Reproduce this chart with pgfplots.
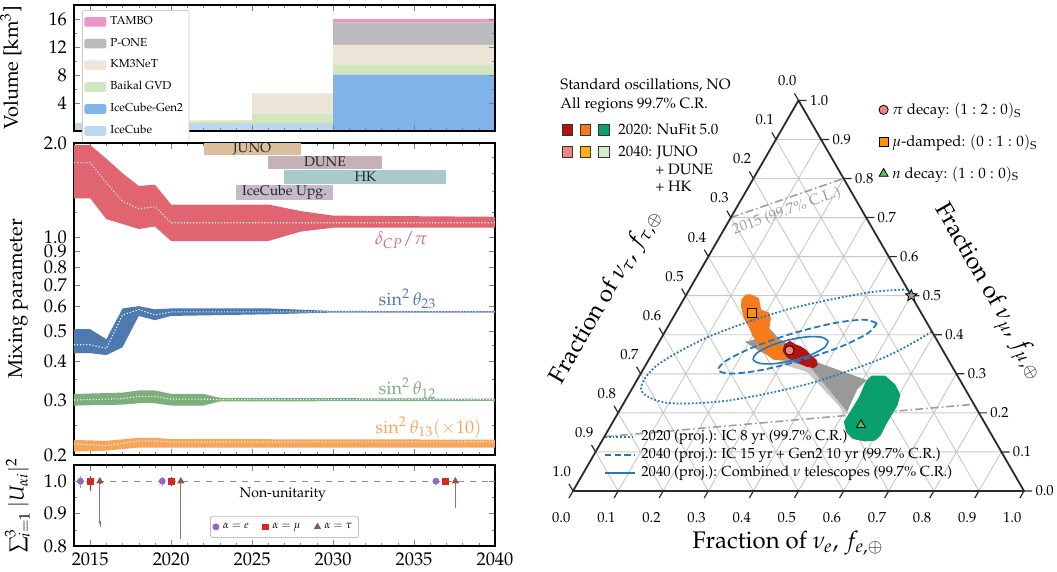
\documentclass[border=0pt]{standalone}
\usepackage[T1]{fontenc}
\usepackage{mathpazo}
\usepackage{xcolor}
\usepackage{pgfplots}
\pgfplotsset{compat=1.18}
\usepackage{pgfplotstable}

\definecolor{cTambo}{HTML}{EA97C6}
\definecolor{cPone}{HTML}{BABABF}
\definecolor{cKm3}{HTML}{EEE5D8}
\definecolor{cBaikal}{HTML}{D2E6BF}
\definecolor{cGen2}{HTML}{80B4E8}
\definecolor{cIC}{HTML}{BBD8F2}
\definecolor{cDcp}{HTML}{E06570}
\definecolor{cT23}{HTML}{4E7BAF}
\definecolor{cT12}{HTML}{7DAF7C}
\definecolor{cT13}{HTML}{F6A55B}
\definecolor{cJuno}{HTML}{D9BF9C}
\definecolor{cDune}{HTML}{C5B1B8}
\definecolor{cHK}{HTML}{A9CACC}
\definecolor{cUpg}{HTML}{C4BACC}
\definecolor{cE}{HTML}{9467BD}
\definecolor{cMu}{HTML}{D62728}
\definecolor{cTau}{HTML}{8C564B}
\definecolor{nfRed}{HTML}{B5120F}
\definecolor{nfOrange}{HTML}{F77B1D}
\definecolor{nfGreen}{HTML}{0C9F6E}
\definecolor{fuRed}{HTML}{F4857E}
\definecolor{fuOrange}{HTML}{FFB20F}
\definecolor{fuGreen}{HTML}{D3EFCB}
\definecolor{cEll}{HTML}{2678B8}
\definecolor{cGridT}{HTML}{C8C8C8}
\definecolor{cEdge}{HTML}{2B2B2B}

\pgfdeclareplotmark{fivestar}{%
  \pgfpathmoveto{\pgfpointpolar{90}{\pgfplotmarksize}}%
  \pgfpathlineto{\pgfpointpolar{126}{0.45\pgfplotmarksize}}%
  \pgfpathlineto{\pgfpointpolar{162}{\pgfplotmarksize}}%
  \pgfpathlineto{\pgfpointpolar{198}{0.45\pgfplotmarksize}}%
  \pgfpathlineto{\pgfpointpolar{234}{\pgfplotmarksize}}%
  \pgfpathlineto{\pgfpointpolar{270}{0.45\pgfplotmarksize}}%
  \pgfpathlineto{\pgfpointpolar{306}{\pgfplotmarksize}}%
  \pgfpathlineto{\pgfpointpolar{342}{0.45\pgfplotmarksize}}%
  \pgfpathlineto{\pgfpointpolar{18}{\pgfplotmarksize}}%
  \pgfpathlineto{\pgfpointpolar{54}{0.45\pgfplotmarksize}}%
  \pgfpathclose
  \pgfusepathqfillstroke
}

% detector volumes (stacked), km^3
\pgfplotstableread{
yr   ic gen baik km   pone tam
2014 1  0   0.10 0.00 0    0
2016 1  0   0.20 0.05 0    0
2020 1  0   0.35 0.10 0    0
2025 1  0   0.45 0.10 0    0
2025 1  0   1.50 2.80 0    0
2030 1  0   1.50 2.80 0    0
2030 0  8   1.50 2.80 3.2  0.5
2040 0  8   1.50 2.80 3.2  0.5
}\voltab

% bands: upper edge forward, lower edge back
\pgfplotstableread{
yr   v
2014 1.97
2015 1.97
2016 1.78
2017 1.60
2018 1.456
2019 1.47
2020 1.27
2026 1.27
2028 1.21
2030 1.17
2040 1.16
2040 1.07
2030 1.07
2028 1.04
2026 0.97
2020 0.97
2019 1.08
2018 1.06
2017 1.10
2016 1.14
2015 1.33
2014 1.33
}\dcpband
\pgfplotstableread{
yr   v
2014 1.73
2015 1.73
2016 1.49
2017 1.30
2018 1.23
2019 1.25
2020 1.11
2040 1.11
}\dcpmid

\pgfplotstableread{
yr   v
2014 0.506
2015 0.506
2016 0.470
2017 0.590
2018 0.600
2019 0.586
2020 0.590
2026 0.590
2030 0.579
2040 0.578
2040 0.572
2030 0.572
2026 0.565
2020 0.558
2019 0.541
2018 0.558
2017 0.443
2016 0.418
2015 0.424
2014 0.424
}\ttwothreeband
\pgfplotstableread{
yr   v
2014 0.451
2015 0.451
2016 0.439
2017 0.562
2018 0.585
2019 0.562
2020 0.575
2040 0.575
}\ttwothreemid

\pgfplotstableread{
yr   v
2014 0.3136
2017 0.317
2018 0.322
2019 0.322
2020 0.314
2022 0.314
2023 0.305
2040 0.303
2040 0.298
2023 0.297
2022 0.288
2020 0.288
2019 0.293
2018 0.293
2017 0.290
2014 0.288
}\tonetwoband
\pgfplotstableread{
yr   v
2014 0.300
2017 0.303
2018 0.308
2019 0.308
2020 0.302
2022 0.302
2023 0.301
2040 0.301
}\tonetwomid

\pgfplotstableread{
yr   v
2014 0.2234
2016 0.222
2018 0.227
2019 0.227
2020 0.2249
2040 0.224
2040 0.211
2020 0.211
2019 0.2113
2018 0.2113
2016 0.2065
2014 0.205
}\tonethreeband
\pgfplotstableread{
yr   v
2014 0.2169
2016 0.2143
2018 0.2218
2019 0.2218
2020 0.220
2040 0.2205
}\tonethreemid

\pgfplotsset{
  table/tern/.style={row sep=\\,
    x expr={\thisrow{fe}+0.5*\thisrow{fmu}},
    y expr={0.866025*\thisrow{fmu}}},
  leftpanel/.style={anchor=south west, scale only axis, width=210.5pt,
    xmin=2014, xmax=2040, xtick={2015,2020,...,2040}, minor x tick num=4,
    major tick length=3pt, minor tick length=1.7pt,
    axis line style={line width=0.6pt},
    tick label style={font=\fontsize{9.2}{10}\selectfont},
    label style={font=\fontsize{10}{12}\selectfont}},
  ticklab/.style={forget plot, only marks, mark size=0pt, mark options={draw=none,fill=none},
    point meta=explicit,
    nodes near coords={\pgfmathprintnumber[fixed,fixed zerofill,precision=1]{\pgfplotspointmeta}},
    every node near coord/.append style={font=\fontsize{7.3}{8}\selectfont, inner sep=0.6pt, text=black}},
  midline/.style={white, densely dotted, line width=0.55pt},
}

\begin{document}
\begin{tikzpicture}
\path[use as bounding box] (0,0) rectangle (528.5pt,286pt);

% ---------- volume ----------
\begin{axis}[leftpanel, at={(37pt,220.5pt)}, height=63pt,
  ymin=0, ymax=18, ytick={4,8,12,16}, minor y tick num=1, xticklabels={},
  stack plots=y, area style,
  ylabel={Volume [km$^3$]},
  ylabel style={at={(axis description cs:-0.108,0.5)}, anchor=south},
  legend style={at={(0.019,0.96)}, anchor=north west, font=\fontsize{5.8}{6.5}\selectfont,
    draw=black!20, rounded corners=1pt, inner sep=1pt, row sep=1.3pt},
  legend cell align=left, reverse legend,
  legend image code/.code={\fill[#1] (0pt,-2.4pt) rectangle (11pt,2.4pt);}]
\addplot[fill=cIC, draw=none] table[x=yr,y=ic]{\voltab} \closedcycle;
\addlegendentry{IceCube}
\addplot[fill=cGen2, draw=none] table[x=yr,y=gen]{\voltab} \closedcycle;
\addlegendentry{IceCube-Gen2}
\addplot[fill=cBaikal, draw=none] table[x=yr,y=baik]{\voltab} \closedcycle;
\addlegendentry{Baikal GVD}
\addplot[fill=cKm3, draw=none] table[x=yr,y=km]{\voltab} \closedcycle;
\addlegendentry{KM3NeT}
\addplot[fill=cPone, draw=none] table[x=yr,y=pone]{\voltab} \closedcycle;
\addlegendentry{P-ONE}
\addplot[fill=cTambo, draw=none] table[x=yr,y=tam]{\voltab} \closedcycle;
\addlegendentry{TAMBO}
\end{axis}

% ---------- mixing parameters ----------
\begin{axis}[leftpanel, at={(37pt,58.5pt)}, height=156pt,
  ymode=log, ymin=0.2, ymax=2.0, xticklabels={},
  ytick={0.2,0.3,0.4,0.5,0.6,0.7,0.8,0.9,1.0,2.0},
  yticklabels={0.2,0.3,0.4,0.5,0.6,0.7,0.8,0.9,1.0,2.0},
  minor ytick={0.25,0.35,0.45,1.2,1.4,1.6,1.8},
  ylabel={Mixing parameter},
  ylabel style={at={(axis description cs:-0.093,0.5)}, anchor=south}]
% experiments
\addplot[fill=cJuno, draw=none] coordinates {(2022,1.83) (2028,1.83) (2028,2.0) (2022,2.0)};
\addplot[fill=cDune, draw=none] coordinates {(2026,1.65) (2033,1.65) (2033,1.82) (2026,1.82)};
\addplot[fill=cHK, draw=none] coordinates {(2027,1.48) (2037,1.48) (2037,1.64) (2027,1.64)};
\addplot[fill=cUpg, draw=none] coordinates {(2024,1.31) (2030,1.31) (2030,1.47) (2024,1.47)};
\node[font=\fontsize{7}{8}\selectfont, text=black!85] at (axis cs:2025,1.91) {JUNO};
\node[font=\fontsize{7}{8}\selectfont, text=black!85] at (axis cs:2029.5,1.735) {DUNE};
\node[font=\fontsize{7}{8}\selectfont, text=black!85] at (axis cs:2032,1.555) {HK};
\node[font=\fontsize{7}{8}\selectfont, text=black!85] at (axis cs:2027,1.385) {IceCube Upg.};
% bands with central values
\addplot[fill=cDcp, draw=none] table[x=yr,y=v]{\dcpband};
\addplot[midline] table[x=yr,y=v]{\dcpmid};
\addplot[fill=cT23, draw=none] table[x=yr,y=v]{\ttwothreeband};
\addplot[midline] table[x=yr,y=v]{\ttwothreemid};
\addplot[fill=cT12, draw=none] table[x=yr,y=v]{\tonetwoband};
\addplot[midline] table[x=yr,y=v]{\tonetwomid};
\addplot[fill=cT13, draw=none] table[x=yr,y=v]{\tonethreeband};
\addplot[midline] table[x=yr,y=v]{\tonethreemid};
\node[text=cDcp, font=\fontsize{9}{10}\selectfont] at (axis cs:2034.2,0.977) {$\delta_{CP}/\pi$};
\node[text=cT23, font=\fontsize{9}{10}\selectfont] at (axis cs:2034.6,0.632) {$\sin^2\theta_{23}$};
\node[text=cT12, font=\fontsize{9}{10}\selectfont] at (axis cs:2034.6,0.327) {$\sin^2\theta_{12}$};
\node[text=cT13, font=\fontsize{9}{10}\selectfont] at (axis cs:2035.9,0.2456) {$\sin^2\theta_{13}(\times 10)$};
\end{axis}

% ---------- unitarity ----------
\begin{axis}[leftpanel, at={(37pt,13pt)}, height=40.5pt,
  ymin=0.8, ymax=1.05, ytick={0.8,0.9,1.0}, yticklabels={0.8,0.9,1.0},
  minor y tick num=1,
  xticklabel style={/pgf/number format/1000 sep={}},
  ylabel={$\textstyle\sum_{i=1}^{3}|U_{\alpha i}|^2$},
  ylabel style={at={(axis description cs:-0.088,0.5)}, anchor=south},
  legend style={at={(0.5,0.1)}, anchor=south, legend columns=3,
    font=\fontsize{5.5}{6}\selectfont, draw=black!25, rounded corners=1pt,
    inner sep=1.2pt, /tikz/every even column/.append style={column sep=5pt}},
  legend cell align=left]
\addplot[forget plot, black!45, dashed, line width=0.4pt] coordinates {(2014,1.0) (2040,1.0)};
\addplot[cE, only marks, mark=*, mark size=1.5pt,
  error bars/.cd, y dir=both, y explicit,
  error bar style={cE!70, line width=0.5pt}, error mark options={cE!70, mark size=1.5pt}]
  coordinates {(2014.4,1.0) += (0,0.006) -= (0,0.013)
               (2019.45,1.0) += (0,0.004) -= (0,0.006)
               (2036.35,1.0) += (0,0.002) -= (0,0.003)};
\addlegendentry{$\alpha=e$}
\addplot[cMu, only marks, mark=square*, mark size=1.4pt,
  error bars/.cd, y dir=both, y explicit,
  error bar style={cMu, line width=0.5pt}, error mark options={cMu, mark size=1.5pt}]
  coordinates {(2015.0,1.0) += (0,0.006) -= (0,0.022)
               (2020.0,1.0) += (0,0.003) -= (0,0.006)
               (2036.95,1.0) += (0,0.002) -= (0,0.004)};
\addlegendentry{$\alpha=\mu$}
\addplot[cTau, only marks, mark=triangle*, mark size=1.7pt,
  error bars/.cd, y dir=both, y explicit,
  error bar style={cTau!85, line width=0.5pt}, error mark options={cTau!85, mark size=1.5pt}]
  coordinates {(2015.6,1.0) += (0,0) -= (0,0.132)
               (2020.6,1.0) += (0,0) -= (0,0.170)
               (2037.55,1.0) += (0,0) -= (0,0.073)};
\addlegendentry{$\alpha=\tau$}
\node[font=\fontsize{7}{8}\selectfont] at (axis cs:2026.9,0.958) {Non-unitarity};
\end{axis}

% ---------- flavour triangle ----------
\begin{axis}[at={(286.5pt,40.5pt)}, anchor=south west, scale only axis,
  width=225.5pt, height=195.3pt, xmin=0, xmax=1, ymin=0, ymax=0.866025,
  hide axis, clip=false, unbounded coords=jump,
  legend style={at={(0.6776,1.006)}, anchor=north west, draw=none, fill=none,
    font=\fontsize{7.5}{9}\selectfont, row sep=4.6pt, inner sep=0pt},
  legend cell align=left,
  legend image code/.code={\draw[#1] plot coordinates {(0.1cm,0cm)};}]
% grid
\addplot[forget plot, cGridT, line width=0.45pt] table[tern] {
fe fmu\\
0 0.1\\ 0.9 0.1\\ nan nan\\ 0 0.2\\ 0.8 0.2\\ nan nan\\ 0 0.3\\ 0.7 0.3\\ nan nan\\
0 0.4\\ 0.6 0.4\\ nan nan\\ 0 0.5\\ 0.5 0.5\\ nan nan\\ 0 0.6\\ 0.4 0.6\\ nan nan\\
0 0.7\\ 0.3 0.7\\ nan nan\\ 0 0.8\\ 0.2 0.8\\ nan nan\\ 0 0.9\\ 0.1 0.9\\ nan nan\\
0.1 0\\ 0.1 0.9\\ nan nan\\ 0.2 0\\ 0.2 0.8\\ nan nan\\ 0.3 0\\ 0.3 0.7\\ nan nan\\
0.4 0\\ 0.4 0.6\\ nan nan\\ 0.5 0\\ 0.5 0.5\\ nan nan\\ 0.6 0\\ 0.6 0.4\\ nan nan\\
0.7 0\\ 0.7 0.3\\ nan nan\\ 0.8 0\\ 0.8 0.2\\ nan nan\\ 0.9 0\\ 0.9 0.1\\ nan nan\\
0.9 0\\ 0 0.9\\ nan nan\\ 0.8 0\\ 0 0.8\\ nan nan\\ 0.7 0\\ 0 0.7\\ nan nan\\
0.6 0\\ 0 0.6\\ nan nan\\ 0.5 0\\ 0 0.5\\ nan nan\\ 0.4 0\\ 0 0.4\\ nan nan\\
0.3 0\\ 0 0.3\\ nan nan\\ 0.2 0\\ 0 0.2\\ nan nan\\ 0.1 0\\ 0 0.1\\
};
% 2015 region boundaries
\addplot[forget plot, black!38, dash pattern=on 4pt off 1.5pt on 0.8pt off 1.5pt, line width=0.8pt] table[tern] {
fe fmu\\ 0 0.70\\ 0.20 0.80\\ nan nan\\ 0 0.139\\ 0.778 0.222\\
};
\node[rotate=20, text=black!38, font=\fontsize{7.5}{8}\selectfont] at (axis cs:0.474,0.620) {2015 (99.7\% C.L.)};
% grey source band
\addplot[forget plot, fill=black!40, draw=none] table[tern] {
fe fmu\\
0.190 0.382\\ 0.210 0.388\\ 0.211 0.429\\ 0.260 0.391\\ 0.325 0.357\\ 0.384 0.327\\
0.509 0.284\\ 0.500 0.259\\ 0.507 0.199\\ 0.456 0.241\\ 0.373 0.305\\ 0.310 0.327\\
0.236 0.357\\
};
\addplot[forget plot, fill=black!22, draw=none] table[tern] {
fe fmu\\
0.290 0.337\\ 0.367 0.317\\ 0.510 0.200\\ 0.497 0.206\\ 0.366 0.305\\ 0.300 0.325\\
};
% NuFit 5.0 regions
\addplot[forget plot, fill=nfOrange, draw=nfOrange, line width=0.8pt, line join=round] table[tern] {
fe fmu\\
0.141 0.502\\ 0.164 0.493\\ 0.184 0.463\\ 0.206 0.455\\ 0.216 0.442\\ 0.227 0.412\\
0.255 0.387\\ 0.284 0.365\\ 0.301 0.348\\ 0.298 0.337\\ 0.279 0.337\\ 0.254 0.351\\
0.226 0.374\\ 0.200 0.399\\ 0.181 0.421\\ 0.160 0.442\\ 0.138 0.472\\ 0.130 0.491\\
0.134 0.500\\ 0.141 0.502\\
};
\addplot[forget plot, fill=nfRed, draw=nfRed, line width=0.8pt, line join=round] table[tern] {
fe fmu\\
0.283 0.374\\ 0.290 0.382\\ 0.305 0.374\\ 0.319 0.369\\ 0.334 0.361\\ 0.351 0.348\\
0.371 0.335\\ 0.379 0.323\\ 0.375 0.317\\ 0.358 0.320\\ 0.339 0.328\\ 0.321 0.335\\
0.303 0.344\\ 0.287 0.359\\ 0.283 0.374\\
};
\addplot[forget plot, fill=nfGreen, draw=nfGreen, line width=0.8pt, line join=round] table[tern] {
fe fmu\\
0.516 0.293\\ 0.545 0.293\\ 0.578 0.271\\ 0.601 0.246\\ 0.608 0.220\\ 0.607 0.177\\
0.609 0.143\\ 0.604 0.131\\ 0.583 0.129\\ 0.554 0.135\\ 0.531 0.152\\ 0.514 0.177\\
0.515 0.199\\ 0.516 0.241\\ 0.511 0.280\\ 0.516 0.293\\
};
% projected IceCube contours
\addplot[forget plot, cEll, densely dotted, line width=0.9pt, smooth] table[tern] {
fe fmu\\
0.484 0.516\\ 0.398 0.5075\\ 0.243 0.4648\\ 0.106 0.3964\\ 0.025 0.3210\\ 0.022 0.2584\\
0.096 0.2256\\ 0.228 0.2315\\ 0.384 0.2742\\ 0.520 0.3426\\ 0.592 0.408\\
};
\addplot[forget plot, cEll, dash pattern=on 3.2pt off 1.6pt, line width=0.9pt, smooth] table[tern] {
fe fmu\\
0.459 0.4292\\ 0.426 0.4386\\ 0.363 0.4295\\ 0.287 0.4042\\ 0.218 0.3696\\ 0.174 0.3351\\
0.167 0.3098\\ 0.200 0.3005\\ 0.263 0.3096\\ 0.339 0.3349\\ 0.409 0.3694\\ 0.452 0.4039\\
0.459 0.4292\\
};
\addplot[forget plot, cEll, line width=0.8pt, smooth] table[tern] {
fe fmu\\
0.374 0.3837\\ 0.355 0.3936\\ 0.322 0.3947\\ 0.284 0.3864\\ 0.251 0.3711\\ 0.231 0.3530\\
0.231 0.3368\\ 0.250 0.3269\\ 0.283 0.3259\\ 0.321 0.3342\\ 0.354 0.3494\\ 0.374 0.3675\\
0.374 0.3837\\
};
% source benchmarks
\addplot[only marks, mark=*, mark size=2.3pt, mark options={fill=fuRed, draw=black, line width=0.4pt}] table[tern] {
fe fmu\\ 0.30 0.36\\
};
\addlegendentry{$\pi$ decay: $(1:2:0)_{\mathrm{S}}$}
\addplot[only marks, mark=square*, mark size=2.2pt, mark options={fill=orange!85!yellow, draw=black, line width=0.4pt}] table[tern] {
fe fmu\\ 0.17 0.455\\
};
\addlegendentry{$\mu$-damped: $(0:1:0)_{\mathrm{S}}$}
\addplot[only marks, mark=triangle*, mark size=2.6pt, mark options={fill=green!70!black!70!white, draw=black, line width=0.4pt}] table[tern] {
fe fmu\\ 0.554 0.169\\
};
\addlegendentry{$n$ decay: $(1:0:0)_{\mathrm{S}}$}
\addplot[forget plot, only marks, mark=fivestar, mark size=3pt, mark options={fill=black!40, draw=black, line width=0.4pt}] table[tern] {
fe fmu\\ 0.5 0.5\\
};
% frame and ticks
\addplot[forget plot, cEdge, line width=0.9pt, line join=round] table[tern] {
fe fmu\\ 0 0\\ 1 0\\ 0 1\\ 0 0\\
};
\addplot[forget plot, cEdge, line width=0.6pt] table[tern] {
fe fmu\\
0 1\\ -0.018 1.018\\ nan nan\\ 0 0.9\\ -0.018 0.918\\ nan nan\\ 0 0.8\\ -0.018 0.818\\ nan nan\\
0 0.7\\ -0.018 0.718\\ nan nan\\ 0 0.6\\ -0.018 0.618\\ nan nan\\ 0 0.5\\ -0.018 0.518\\ nan nan\\
0 0.4\\ -0.018 0.418\\ nan nan\\ 0 0.3\\ -0.018 0.318\\ nan nan\\ 0 0.2\\ -0.018 0.218\\ nan nan\\
0 0.1\\ -0.018 0.118\\ nan nan\\ 0 0\\ -0.018 0.018\\ nan nan\\
1 0\\ 1.018 0\\ nan nan\\ 0.9 0.1\\ 0.918 0.1\\ nan nan\\ 0.8 0.2\\ 0.818 0.2\\ nan nan\\
0.7 0.3\\ 0.718 0.3\\ nan nan\\ 0.6 0.4\\ 0.618 0.4\\ nan nan\\ 0.5 0.5\\ 0.518 0.5\\ nan nan\\
0.4 0.6\\ 0.418 0.6\\ nan nan\\ 0.3 0.7\\ 0.318 0.7\\ nan nan\\ 0.2 0.8\\ 0.218 0.8\\ nan nan\\
0.1 0.9\\ 0.118 0.9\\ nan nan\\ 0 1\\ 0.018 1\\ nan nan\\
0 0\\ 0 -0.018\\ nan nan\\ 0.1 0\\ 0.1 -0.018\\ nan nan\\ 0.2 0\\ 0.2 -0.018\\ nan nan\\
0.3 0\\ 0.3 -0.018\\ nan nan\\ 0.4 0\\ 0.4 -0.018\\ nan nan\\ 0.5 0\\ 0.5 -0.018\\ nan nan\\
0.6 0\\ 0.6 -0.018\\ nan nan\\ 0.7 0\\ 0.7 -0.018\\ nan nan\\ 0.8 0\\ 0.8 -0.018\\ nan nan\\
0.9 0\\ 0.9 -0.018\\ nan nan\\ 1 0\\ 1 -0.018\\
};
% tick labels: f_tau (left), f_mu (right), f_e (bottom)
\addplot[ticklab, every node near coord/.append style={anchor=center}] table[tern, meta=lab] {
fe fmu lab\\
-0.05 1.05 0.0\\ -0.05 0.95 0.1\\ -0.05 0.85 0.2\\ -0.05 0.75 0.3\\ -0.05 0.65 0.4\\
-0.05 0.55 0.5\\ -0.05 0.45 0.6\\ -0.05 0.35 0.7\\ -0.05 0.25 0.8\\ -0.05 0.15 0.9\\
-0.05 0.05 1.0\\
};
\addplot[ticklab, every node near coord/.append style={anchor=west}] table[tern, meta=lab] {
fe fmu lab\\
1.022 0 0.0\\ 0.922 0.1 0.1\\ 0.822 0.2 0.2\\ 0.722 0.3 0.3\\ 0.622 0.4 0.4\\
0.522 0.5 0.5\\ 0.422 0.6 0.6\\ 0.322 0.7 0.7\\ 0.222 0.8 0.8\\ 0.122 0.9 0.9\\
0.022 1.0 1.0\\
};
\addplot[ticklab, every node near coord/.append style={anchor=center}] table[tern, meta=lab] {
fe fmu lab\\
0.008 -0.068 0.0\\ 0.108 -0.068 0.1\\ 0.208 -0.068 0.2\\ 0.308 -0.068 0.3\\
0.408 -0.068 0.4\\ 0.508 -0.068 0.5\\ 0.608 -0.068 0.6\\ 0.708 -0.068 0.7\\
0.808 -0.068 0.8\\ 0.908 -0.068 0.9\\ 1.008 -0.068 1.0\\
};
\end{axis}

% triangle axis titles
\node[font=\fontsize{12}{14}\selectfont] at (394pt,14.5pt) {Fraction of $\nu_e$, $f_{e,\oplus}$};
\node[font=\fontsize{12}{14}\selectfont, rotate=-60] at (494pt,140pt) {Fraction of $\nu_\mu$, $f_{\mu,\oplus}$};
\node[font=\fontsize{12}{14}\selectfont, rotate=60] at (302.9pt,137.5pt) {Fraction of $\nu_\tau$, $f_{\tau,\oplus}$};

% region key
\begin{scope}[font=\fontsize{7.5}{9}\selectfont]
\node[anchor=base west, inner sep=0pt] at (280pt,241.3pt) {Standard oscillations, NO};
\node[anchor=base west, inner sep=0pt] at (280pt,231.8pt) {All regions 99.7\% C.R.};
\foreach \c/\x in {nfRed/283.5, nfOrange/292.7, nfGreen/301.8}
  \node[draw=black!80, line width=0.3pt, fill=\c, minimum size=5.2pt, inner sep=0pt] at (\x pt,221pt) {};
\foreach \c/\x in {fuRed/283.5, fuOrange/292.7, fuGreen/301.8}
  \node[draw=black!80, line width=0.3pt, fill=\c, minimum size=5.2pt, inner sep=0pt] at (\x pt,210pt) {};
\node[anchor=base west, inner sep=0pt] at (309pt,218.5pt) {2020: NuFit 5.0};
\node[anchor=base west, inner sep=0pt] at (309pt,207.6pt) {2040: JUNO};
\node[anchor=base west, inner sep=0pt] at (327.5pt,198.5pt) {+ DUNE};
\node[anchor=base west, inner sep=0pt] at (327.5pt,190pt) {+ HK};
\end{scope}

% contour key
\begin{scope}[font=\fontsize{7.3}{9}\selectfont]
\draw[cEll, densely dotted, line width=0.9pt] (302.5pt,67.5pt) -- (317.5pt,67.5pt);
\draw[cEll, dash pattern=on 3.2pt off 1.6pt, line width=0.9pt] (302.5pt,58.5pt) -- (317.5pt,58.5pt);
\draw[cEll, line width=0.9pt] (302.5pt,49.5pt) -- (317.5pt,49.5pt);
\node[anchor=west, inner sep=0pt] at (320.5pt,67.5pt) {2020 (proj.): IC 8 yr (99.7\% C.R.)};
\node[anchor=west, inner sep=0pt] at (320.5pt,58.5pt) {2040 (proj.): IC 15 yr + Gen2 10 yr (99.7\% C.R.)};
\node[anchor=west, inner sep=0pt] at (320.5pt,49.5pt) {2040 (proj.): Combined $\nu$ telescopes (99.7\% C.R.)};
\end{scope}
\end{tikzpicture}
\end{document}
